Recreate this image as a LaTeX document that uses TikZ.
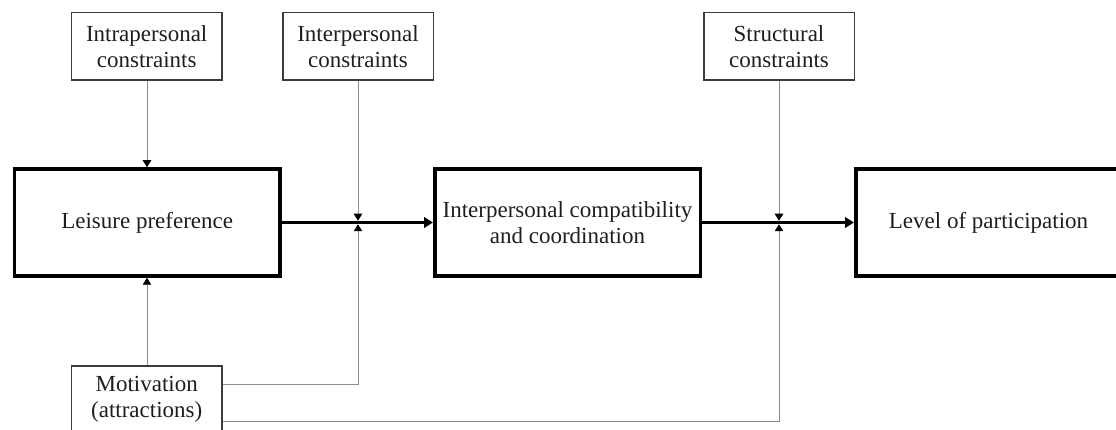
\documentclass[tikz,border=0pt]{standalone}
\usepackage{fontspec}
\setmainfont{Liberation Serif}
\usetikzlibrary{arrows.meta,calc}
\definecolor{thinline}{HTML}{8C8C8C}
\definecolor{boxedge}{HTML}{3C3C3C}
\definecolor{ink}{HTML}{1E1E1E}
\tikzset{
  txt/.style={font=\fontsize{23}{26}\selectfont, text=ink, align=center},
  smallbox/.style={txt, draw=boxedge, line width=1.5pt, minimum width=150.5pt, minimum height=67.5pt, inner sep=0pt},
  bigbox/.style={txt, draw=black, line width=3.5pt, minimum width=265.5pt, minimum height=107pt, inner sep=0pt},
  link/.style={draw=thinline, line width=0.9pt, -{Triangle[length=7pt,width=8.5pt,color=black]}},
  flow/.style={draw=black, line width=3.5pt, -{Triangle[length=9pt,width=10.5pt]}}
}
\begin{document}
\begin{tikzpicture}[x=1pt,y=-1pt]
\useasboundingbox (0,0) rectangle (1116,430);
\clip (0,0) rectangle (1116,430);

% constraint boxes along the top
\node[smallbox] (intra) at (146.7,46.5) {Intrapersonal\\constraints};
\node[smallbox] (inter) at (358,46.5) {Interpersonal\\constraints};
\node[smallbox] (struc) at (779,46.5) {Structural\\constraints};

% main chain
\node[bigbox] (leis) at (147.2,222.5) {Leisure preference};
\node[bigbox] (comp) at (567.5,222.5) {Interpersonal compatibility\\and coordination};
\node[bigbox] (level) at (988.5,222.5) {Level of participation};

% motivation box at the bottom
\node[smallbox] (mot) at (146.7,399.5) {Motivation\\(attractions)};

% junctions on the main arrows
\coordinate (j1) at (inter.south |- leis.east);
\coordinate (j2) at (struc.south |- leis.east);
\coordinate (m1) at ([yshift=-19.5pt]mot.north east);
\coordinate (m2) at ([yshift=-56pt]mot.north east);

% main flow
\draw[flow] (leis.east) -- (comp.west);
\draw[flow] (comp.east) -- (level.west);

% constraint influences
\draw[link] (intra.south -| 147,0) -- (147,0 |- leis.north);
\draw[link, shorten >=1.75pt] (inter.south) -- (j1);
\draw[link, shorten >=1.75pt] (struc.south) -- (j2);

% motivation influences
\draw[link] (mot.north -| 147,0) -- (147,0 |- leis.south);
\draw[link, shorten >=1.75pt] (m1) -| (j1);
\draw[link, shorten >=1.75pt] (m2) -| (j2);
\end{tikzpicture}
\end{document}
